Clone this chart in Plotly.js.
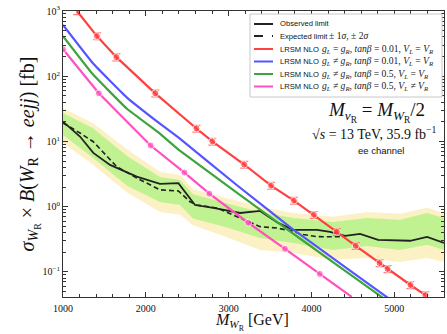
<!DOCTYPE html>
<html><head><meta charset="utf-8">
<script src="https://cdn.plot.ly/plotly-3.0.1.min.js"></script>
<style>html,body{margin:0;padding:0;background:#fff}#c{width:447px;height:334px}</style>
</head><body><div id="c"></div>
<script>
// ---- data ----
const bandM   = [1000,1362,1773,2171,2413,2570,2981,3379,3778,4261,4671,5070,5396,5600];
const band2Lo = [9.5,4.4,1.65,0.83,0.75,0.52,0.34,0.217,0.195,0.153,0.164,0.142,0.164,0.142];
const band1Lo = [12.6,5.6,2.1,1.18,1.06,0.66,0.48,0.33,0.278,0.217,0.25,0.217,0.26,0.217];
const band1Hi = [27.3,16,6.0,2.86,2.57,1.55,1.12,0.83,0.67,0.58,0.67,0.63,0.80,0.67];
const band2Hi = [32.6,19,7.6,3.41,3.07,1.85,1.35,1.0,0.80,0.70,0.83,0.78,0.96,0.80];

const obsM = [1000,1205,1366,1568,1890,2171,2393,2594,2815,3138,3379,3597,3778,4068,4225,4406,4587,4804,5191,5396,5600];
const obsV = [20.1,11.9,6.67,4.37,2.89,2.23,2.29,1.06,0.957,0.80,0.86,0.564,0.44,0.44,0.41,0.356,0.382,0.309,0.30,0.343,0.278];

const expM = [1000,1205,1366,1648,1890,2171,2393,2534,2614,2856,3138,3379,3580,3781,3862,4068,4406];
const expV = [19.2,13.5,9.9,4.11,2.75,1.81,1.74,1.19,1.06,0.957,0.67,0.494,0.47,0.42,0.38,0.347,0.345];

const redM = [1169,1409,1645,2114,2611,2803,3188,3512,3788,4029,4305,4534,4822,4918,5195,5375];
const redV = [1000,412,196,54.7,15.8,10,4.43,2.1,1.24,0.753,0.412,0.251,0.137,0.111,0.063,0.044];
const redMarker = [0,1,1,1,1,1,1,1,1,1,1,1,1,1,1,1];

const blueM = [1000,1361,1769,2166,2400,3097,3764,3849,4906,5000];
const blueV = [610,158,47.5,18.9,11.3,2.15,0.459,0.385,0.0414,0.034];

const greenM = [1000,1361,1769,2166,2406,3728,3849,4846,4950];
const greenV = [412,107,32,13.3,7.3,0.43,0.334,0.0414,0.033];

const pinkM = [1000,1433,2058,2466,2767,3236,3680,4101,4486];
const pinkV = [260,54.7,8.67,3.33,1.58,0.567,0.226,0.093,0.0414];
const pinkMarker = [1,1,1,1,1,1,1,1,0];

const yTickVals = [0.1,1,10,100,1000];
const yTickText = ['10<sup>−1</sup>','10<sup>0</sup>','10<sup>1</sup>','10<sup>2</sup>','10<sup>3</sup>'];

const xTitle = '<i>M</i><sub><i>W</i><sub>R</sub></sub> [GeV]';
const yTitle = '<i>σ</i><sub><i>W</i><sub>R</sub></sub> × <i>B</i>(<i>W</i><sub>R</sub> → <i>eejj</i>) [fb]';

const legendWords = ['Observed limit','Expected limit','LRSM NLO','LRSM NLO','LRSM NLO','LRSM NLO'];
const legendMath = [
  '',
  '± 1<i>σ</i>, ± 2<i>σ</i>',
  '<i>g<sub>L</sub></i> = <i>g<sub>R</sub></i>, <i>tanβ</i> = 0.01, <i>V<sub>L</sub></i> = <i>V<sub>R</sub></i>',
  '<i>g<sub>L</sub></i> ≠ <i>g<sub>R</sub></i>, <i>tanβ</i> = 0.01, <i>V<sub>L</sub></i> = <i>V<sub>R</sub></i>',
  '<i>g<sub>L</sub></i> ≠ <i>g<sub>R</sub></i>, <i>tanβ</i> = 0.5, <i>V<sub>L</sub></i> = <i>V<sub>R</sub></i>',
  '<i>g<sub>L</sub></i> ≠ <i>g<sub>R</sub></i>, <i>tanβ</i> = 0.5, <i>V<sub>L</sub></i> ≠ <i>V<sub>R</sub></i>'
];

// ---- styles ----
const C_RED='rgb(255,64,64)', C_BLUE='rgb(85,85,255)', C_GREEN='rgb(60,165,60)', C_PINK='rgb(255,80,190)';
const C_Y='rgb(252,241,196)', C_G='rgb(192,242,146)';
const legendColors = ['#222','#222',C_RED,C_BLUE,C_GREEN,C_PINK];
const legendDash = ['solid','dash','solid','solid','solid','solid'];

const traces = [
  {x:bandM,y:band2Hi,mode:'lines',line:{width:0,color:C_Y},hoverinfo:'skip'},
  {x:bandM,y:band2Lo,mode:'lines',line:{width:0,color:C_Y},fill:'tonexty',fillcolor:C_Y,hoverinfo:'skip'},
  {x:bandM,y:band1Hi,mode:'lines',line:{width:0,color:C_G},hoverinfo:'skip'},
  {x:bandM,y:band1Lo,mode:'lines',line:{width:0,color:C_G},fill:'tonexty',fillcolor:C_G,hoverinfo:'skip'},
  {x:expM,y:expV,mode:'lines',line:{color:'#222',width:1.6,dash:'5px,3px'}},
  {x:obsM,y:obsV,mode:'lines',line:{color:'#222',width:1.8}},
  {x:blueM,y:blueV,mode:'lines',line:{color:C_BLUE,width:2.2,shape:'spline',smoothing:0.3}},
  {x:greenM,y:greenV,mode:'lines',line:{color:C_GREEN,width:2.2,shape:'spline',smoothing:0.3}},
  {x:pinkM,y:pinkV,mode:'lines+markers',line:{color:C_PINK,width:2.2},
   marker:{color:C_PINK,size:pinkMarker.map(v=>v*7),symbol:'circle'}},
  {x:redM,y:redV,mode:'lines+markers',line:{color:C_RED,width:2.2},
   marker:{color:C_RED,size:redMarker.map(v=>v*7),symbol:'circle'},
   error_y:{type:'percent',value:12,color:'rgba(255,80,80,0.75)',thickness:1.2,width:4}}
];

// plot-area pixel geometry helpers for the hand-drawn legend
const L=63,R=444,T=11,B=297;
const px2x = p => (p-L)/(R-L);
const py2y = p => (B-p)/(B-T);

const shapes=[{type:'rect',xref:'paper',yref:'paper',x0:px2x(250),x1:px2x(442),y0:py2y(97),y1:py2y(14),
  line:{color:'#c8c8c8',width:1},fillcolor:'white',layer:'above'}];
const annotations=[];
const rowY=[24,36,49,61.5,74,86.5];
rowY.forEach((yy,i)=>{
  shapes.push({type:'line',xref:'paper',yref:'paper',x0:px2x(254),x1:px2x(273),y0:py2y(yy),y1:py2y(yy),
    line:{color:legendColors[i],width:2,dash:legendDash[i]},layer:'above'});
  annotations.push({xref:'paper',yref:'paper',x:px2x(278),y:py2y(yy),xanchor:'left',yanchor:'middle',
    text:legendWords[i],showarrow:false,font:{family:'Liberation Sans',size:7.6,color:'#111'}});
  if(legendMath[i]) annotations.push({xref:'paper',yref:'paper',x:px2x(i===1?327:320),y:py2y(yy-0.5),xanchor:'left',yanchor:'middle',
    text:legendMath[i],showarrow:false,font:{family:'Liberation Serif',size:9.6,color:'#222'}});
});
annotations.push({xref:'paper',yref:'paper',x:px2x(376),y:py2y(112),xanchor:'center',yanchor:'middle',showarrow:false,
  text:'<i>M</i><sub><i>ν</i><sub>R</sub></sub> = <i>M</i><sub><i>W</i><sub>R</sub></sub>/2',
  font:{family:'Liberation Serif',size:19,color:'#111'}});
annotations.push({xref:'paper',yref:'paper',x:px2x(374),y:py2y(133),xanchor:'center',yanchor:'middle',showarrow:false,
  text:'√<i>s</i> = 13 TeV, 35.9 fb<sup>−1</sup>',font:{family:'Liberation Serif',size:14,color:'#111'}});
annotations.push({xref:'paper',yref:'paper',x:px2x(381),y:py2y(150),xanchor:'center',yanchor:'middle',showarrow:false,
  text:'ee channel',font:{family:'Liberation Sans',size:9.5,color:'#111'}});
// x-axis title
annotations.push({xref:'paper',yref:'paper',x:px2x(252),y:py2y(322),xanchor:'center',yanchor:'middle',showarrow:false,
  text:xTitle,font:{family:'Liberation Serif',size:16,color:'#111'}});

const minorY=[];
[-2,-1,0,1,2].forEach(k=>{for(let d=2;d<=9;d++) minorY.push(d*Math.pow(10,k));});

const layout={
  width:447,height:334,margin:{l:L,r:447-R,t:T,b:334-B},
  paper_bgcolor:'white',plot_bgcolor:'white',showlegend:false,
  xaxis:{range:[1000,5600],tickmode:'linear',tick0:1000,dtick:1000,ticks:'inside',ticklen:5,tickcolor:'#333',
    showline:true,linecolor:'#333',linewidth:1,mirror:'allticks',showgrid:false,zeroline:false,ticklabelstandoff:2,
    tickfont:{family:'Liberation Serif',size:10,color:'#111'},
    minor:{tickmode:'linear',tick0:1000,dtick:200,ticks:'inside',ticklen:3,tickcolor:'#333',showgrid:false}},
  yaxis:{type:'log',range:[-1.385,3],tickmode:'array',tickvals:yTickVals,ticktext:yTickText,ticks:'inside',ticklen:5,tickcolor:'#333',
    showline:true,linecolor:'#333',linewidth:1,mirror:'allticks',showgrid:false,zeroline:false,
    tickfont:{family:'Liberation Serif',size:10,color:'#111'},
    minor:{tickmode:'array',tickvals:minorY,ticks:'inside',ticklen:3,tickcolor:'#333',showgrid:false},
    title:{text:yTitle,font:{family:'Liberation Serif',size:20,color:'#111'},standoff:2}},
  shapes:shapes,annotations:annotations
};
Plotly.newPlot('c',traces,layout,{staticPlot:true,displayModeBar:false});
</script></body></html>
